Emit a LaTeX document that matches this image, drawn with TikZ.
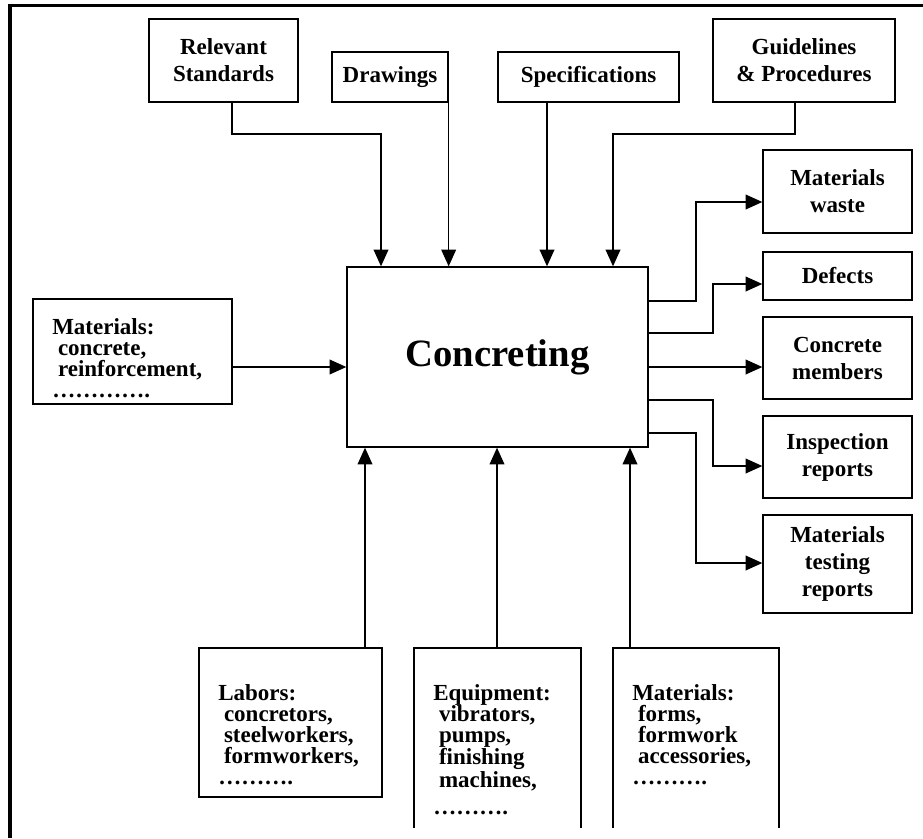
\documentclass[tikz,border=0pt]{standalone}
\usepackage{fontspec}
\setmainfont{Liberation Serif}
\usetikzlibrary{fit,arrows.meta}
\tikzset{
  box/.style={draw, line width=1pt, inner sep=0pt, rectangle},
  ctr/.style={align=center, inner sep=0pt, font=\bfseries\fontsize{17.25}{20.25}\selectfont},
  lft/.style={align=left, inner sep=0pt, anchor=north west, font=\bfseries\fontsize{17.25}{15.75}\selectfont},
  arr/.style={line width=1.1pt, -{Triangle[length=12.5pt,width=11pt]}},
}
\begin{document}
\begin{tikzpicture}[x=0.75pt,y=-0.75pt]
\useasboundingbox (0,0) rectangle (923,838);
\fill[white] (0,0) rectangle (923,838);
\draw[line width=2.6pt] (923,5.5) -- (10,5.5) -- (10,838);

% top inputs
\node[box, fit={(149,19) (298,102)}] (rs) {};
\node[box, fit={(332,52) (448,102)}] (dr) {};
\node[box, fit={(498,52) (679,102)}] (sp) {};
\node[box, fit={(713,19) (895,102)}] (gp) {};
\node[ctr] (rsl) at (rs.center) {Relevant\\Standards};
\node[ctr] (drl) at (dr.center) {Drawings};
\node[ctr] (spl) at (sp.center) {Specifications};
\node[ctr] (gpl) at (gp.center) {Guidelines\\\& Procedures};

% central activity
\node[box, fit={(347,267) (648,447)}] (con) {};
\node[inner sep=0pt, font=\bfseries\fontsize{29}{34}\selectfont] (conl) at (con.center) {Concreting};

% left input
\node[box, fit={(33,299) (232,404)}] (ml) {};
\node[lft] (mlt) at (52,318.5) {Materials:\\\hspace*{0.25em}concrete,\\\hspace*{0.25em}reinforcement,\\…………. };

% outputs
\node[box, fit={(763,150) (912,233)}] (mw) {};
\node[box, fit={(763,252) (912,300)}] (df) {};
\node[box, fit={(763,317) (912,399)}] (cm) {};
\node[box, fit={(763,416) (912,498)}] (ir) {};
\node[box, fit={(763,515) (912,613)}] (mt) {};
\node[ctr] (mwl) at (mw.center) {Materials\\waste};
\node[ctr] (dfl) at (df.center) {Defects};
\node[ctr] (cml) at (cm.center) {Concrete\\members};
\node[ctr] (irl) at (ir.center) {Inspection\\reports};
\node[ctr] (mtl) at (mt.center) {Materials\\testing\\reports};

% bottom mechanisms
\node[box, fit={(199,648) (382,797)}] (lb) {};
\begin{scope}
  \clip (0,0) rectangle (923,827);
  \node[box, fit={(414,648) (581,880)}] (eq) {};
  \node[box, fit={(613,648) (779,880)}] (mf) {};
\end{scope}
\node[lft] (lbt) at (218,684.3) {Labors:\\\hspace*{0.25em}concretors,\\\hspace*{0.25em}steelworkers,\\\hspace*{0.25em}formworkers,\\……….};
\node[lft] (eqt) at (433,684.3) {Equipment:\\\hspace*{0.25em}vibrators,\\\hspace*{0.25em}pumps,\\\hspace*{0.25em}finishing\\\hspace*{0.25em}machines,\\[5pt]……….};
\node[lft] (mft) at (632,684.3) {Materials:\\\hspace*{0.25em}forms,\\\hspace*{0.25em}formwork\\\hspace*{0.25em}accessories,\\……….};

% connectors: controls
\draw[arr] (rs.south -| 232,0) -- (232,134) -| (con.north -| 381,0);
\draw[arr] (dr.south east) -- (con.north -| dr.south east);
\draw[arr] (sp.south -| 547,0) -- (con.north -| 547,0);
\draw[arr] (gp.south -| 795,0) -- (795,134) -| (con.north -| 613,0);

% input
\draw[arr] (ml.east |- 0,367) -- (con.west |- 0,367);

% outputs
\draw[arr] (con.east |- 0,301) -| (696,202) -- (mw.west |- 0,202);
\draw[arr] (con.east |- 0,333) -| (713,284) -- (df.west |- 0,284);
\draw[arr] (con.east |- 0,367) -- (cm.west |- 0,367);
\draw[arr] (con.east |- 0,400) -| (713,466) -- (ir.west |- 0,466);
\draw[arr] (con.east |- 0,433) -| (696,563) -- (mt.west |- 0,563);

% mechanisms
\draw[arr] (lb.north -| 365,0) -- (con.south -| 365,0);
\draw[arr] (eq.north -| 497,0) -- (con.south -| 497,0);
\draw[arr] (mf.north -| 630,0) -- (con.south -| 630,0);
\end{tikzpicture}
\end{document}
